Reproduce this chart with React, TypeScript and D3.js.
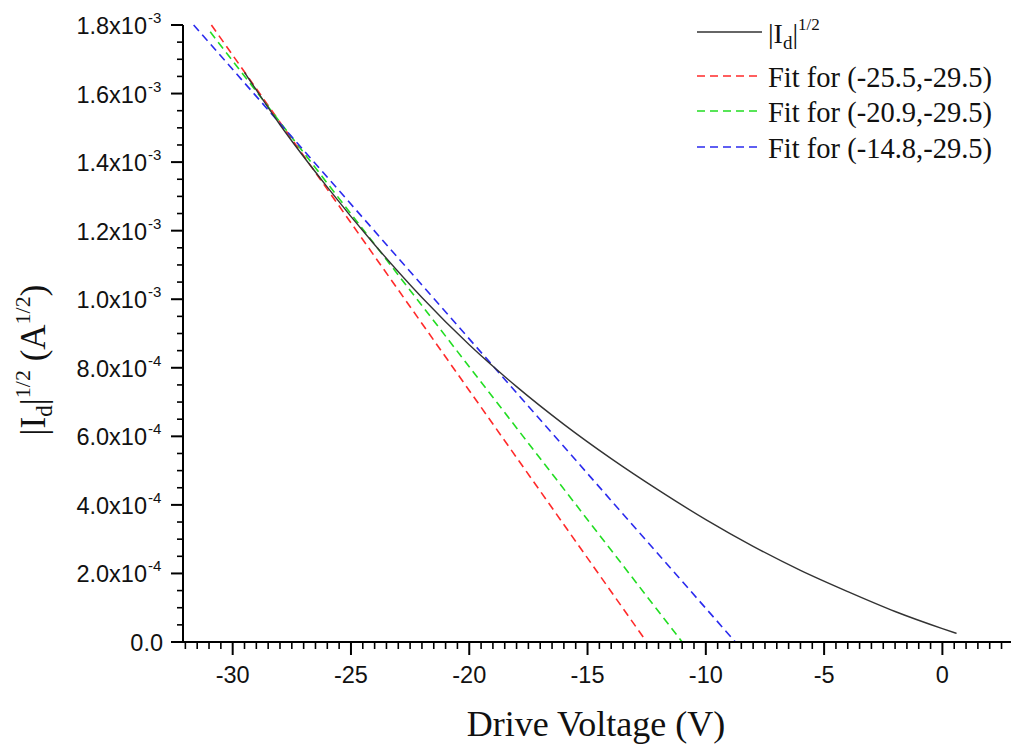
import React from "react";
import * as d3 from "d3";

// Measured |Id|^1/2 curve (V, A^1/2)
const driveVoltage = [-29.5, -28, -26, -24, -22, -20, -18, -16, -14, -12, -10, -8, -6, -4, -2, 0, 0.6];
const sqrtId = [1.662e-3, 1.509e-3, 1.327e-3, 1.159e-3, 1.005e-3, 0.867e-3, 0.745e-3, 0.635e-3, 0.535e-3, 0.443e-3, 0.357e-3, 0.279e-3, 0.209e-3, 0.147e-3, 0.089e-3, 0.039e-3, 0.025e-3];

// Linear fits: endpoints [x, y]
const fitNames = ["Fit for (-25.5,-29.5)", "Fit for (-20.9,-29.5)", "Fit for (-14.8,-29.5)"];
const fitColors = ["#ff2a2a", "#22dd22", "#2a2aee"];
const fitStart = [[-30.9, 1.8e-3], [-30.95, 1.78e-3], [-31.65, 1.8e-3]];
const fitEnd = [[-12.5, 0], [-11.0, 0], [-8.75, 0]];

const xTicks = [-30, -25, -20, -15, -10, -5, 0];
const xTickLabels = ["-30", "-25", "-20", "-15", "-10", "-5", "0"];
const yTicks = [0, 2e-4, 4e-4, 6e-4, 8e-4, 1.0e-3, 1.2e-3, 1.4e-3, 1.6e-3, 1.8e-3];
const yTickMant = ["0.0", "2.0x10", "4.0x10", "6.0x10", "8.0x10", "1.0x10", "1.2x10", "1.4x10", "1.6x10", "1.8x10"];
const yTickExp = ["", "-4", "-4", "-4", "-4", "-3", "-3", "-3", "-3", "-3"];

export default function App() {
  const W = 1011, H = 745;
  const x = d3.scaleLinear().domain([-32.1, 2.9]).range([183, 1011]);
  const y = d3.scaleLinear().domain([0, 1.8e-3]).range([642, 25]);
  const y0 = y(0);
  const x0 = x.range()[0];

  const minorX = d3.range(-32, 2.9, 0.5).filter((v) => Math.abs(v % 5) > 1e-6);
  const minorY = d3.range(0, 1.8e-3 + 1e-9, 0.5e-4).filter((v) => Math.abs((v / 2e-4) - Math.round(v / 2e-4)) > 1e-6);

  const line = d3
    .line<number>()
    .x((_, i) => x(driveVoltage[i]))
    .y((d) => y(d))
    .curve(d3.curveMonotoneX);

  const sans = "Liberation Sans, Arial, sans-serif";
  const serif = "Liberation Serif, Times New Roman, serif";

  const legendX1 = 697, legendX2 = 762, legendTextX = 768;
  const legendRowY = [76, 111, 147];

  return (
    <svg width={W} height={H} style={{ position: "absolute", left: 0, top: 0, background: "#fff" }}>
      <rect x={0} y={0} width={W} height={H} fill="#fff" />
      {/* fit lines */}
      {fitNames.map((n, i) => (
        <line
          key={n}
          x1={x(fitStart[i][0])}
          y1={y(fitStart[i][1])}
          x2={x(fitEnd[i][0])}
          y2={y(fitEnd[i][1])}
          stroke={fitColors[i]}
          strokeWidth={1.6}
          strokeDasharray="8,5"
        />
      ))}
      {/* measured curve */}
      <path d={line(sqrtId) || ""} fill="none" stroke="#333" strokeWidth={1.4} />

      {/* axes */}
      <line x1={x0} y1={y0} x2={W} y2={y0} stroke="#000" strokeWidth={2} />
      <line x1={x0} y1={y(1.8e-3)} x2={x0} y2={y0 + 1} stroke="#000" strokeWidth={2} />
      {minorX.map((v) => (
        <line key={"mx" + v} x1={x(v)} x2={x(v)} y1={y0} y2={y0 + 7} stroke="#000" strokeWidth={1.6} />
      ))}
      {xTicks.map((v, i) => (
        <g key={"x" + v}>
          <line x1={x(v)} x2={x(v)} y1={y0} y2={y0 + 13} stroke="#000" strokeWidth={2} />
          <text x={x(v)} y={683} textAnchor="middle" fontFamily={sans} fontSize={23.5} fill="#111">
            {xTickLabels[i]}
          </text>
        </g>
      ))}
      {minorY.map((v) => (
        <line key={"my" + v} x1={x0 - 6} x2={x0} y1={y(v)} y2={y(v)} stroke="#000" strokeWidth={1.6} />
      ))}
      {yTicks.map((v, i) => (
        <g key={"y" + v}>
          <line x1={x0 - 12} x2={x0} y1={y(v)} y2={y(v)} stroke="#000" strokeWidth={2} />
          <text x={yTickExp[i] ? 147 : 163} y={y(v) + 9} textAnchor="end" fontFamily={sans} fontSize={23.5} fill="#111">
            {yTickMant[i]}
          </text>
          {yTickExp[i] && (
            <text x={148} y={y(v) - 2} textAnchor="start" fontFamily={sans} fontSize={15} fill="#111">
              {yTickExp[i]}
            </text>
          )}
        </g>
      ))}

      {/* axis titles */}
      <text x={596} y={736} textAnchor="middle" fontFamily={serif} fontSize={36} fill="#111">
        Drive Voltage (V)
      </text>
      <g transform="translate(45,360) rotate(-90)">
        <text x={0} y={0} textAnchor="middle" fontFamily={serif} fontSize={35} fill="#111">
          <tspan>|I</tspan>
          <tspan fontSize={23} dy={7}>d</tspan>
          <tspan dy={-7}>|</tspan>
          <tspan fontSize={22} dy={-15}>1/2</tspan>
          <tspan dy={15}> (A</tspan>
          <tspan fontSize={22} dy={-15}>1/2</tspan>
          <tspan dy={15}>)</tspan>
        </text>
      </g>

      {/* legend */}
      <line x1={legendX1} x2={legendX2} y1={32} y2={32} stroke="#333" strokeWidth={1.4} />
      <text x={legendTextX} y={43} fontFamily={serif} fontSize={28} fill="#111">
        <tspan>|I</tspan>
        <tspan fontSize={19} dy={6}>d</tspan>
        <tspan dy={-6}>|</tspan>
        <tspan fontSize={17} dy={-13}>1/2</tspan>
      </text>
      {fitNames.map((n, i) => (
        <g key={"lg" + n}>
          <line x1={legendX1} x2={legendX2} y1={legendRowY[i]} y2={legendRowY[i]} stroke={fitColors[i]} strokeWidth={1.6} strokeDasharray="8,5" />
          <text x={legendTextX} y={legendRowY[i] + 11} fontFamily={serif} fontSize={28.5} fill="#111">
            {n}
          </text>
        </g>
      ))}
    </svg>
  );
}
